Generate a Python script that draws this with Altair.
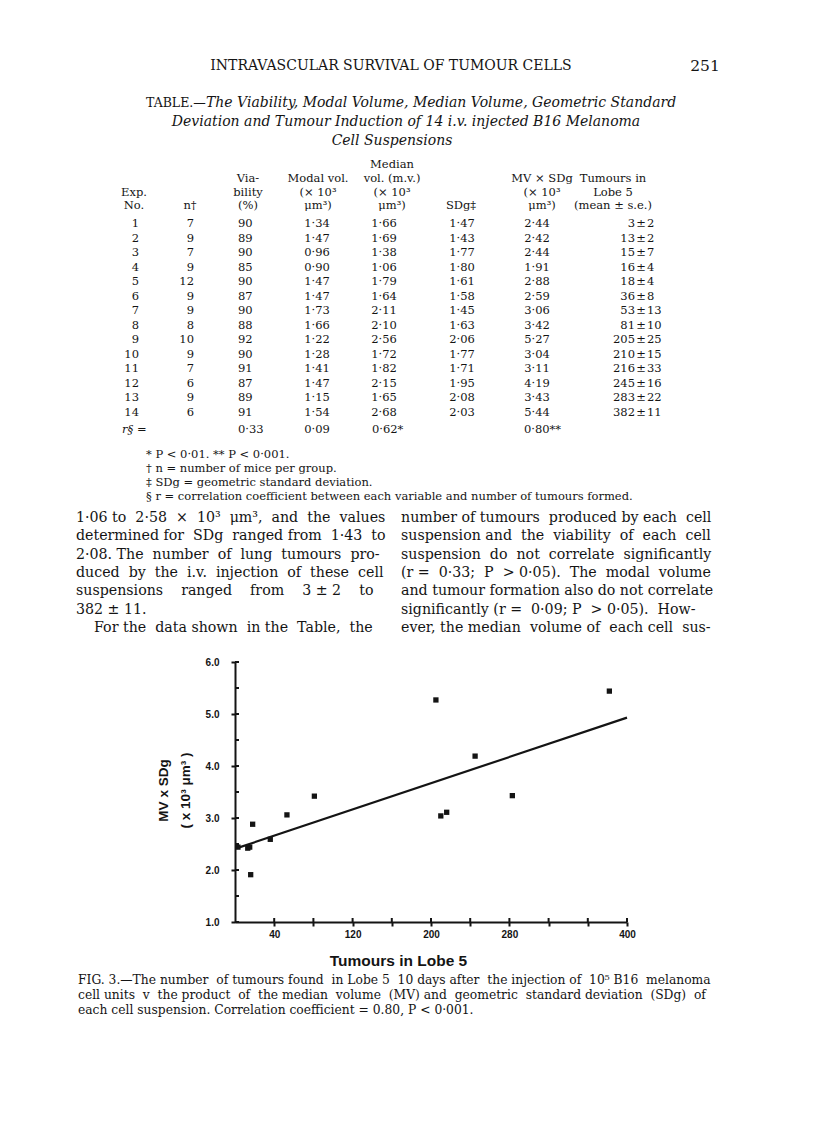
import altair as alt
import pandas as pd

# ---------------- data: the Table ----------------
exp_no = list(range(1, 15))
n_mice = [7, 9, 7, 9, 12, 9, 9, 8, 10, 9, 7, 6, 9, 6]
viability = [90, 89, 90, 85, 90, 87, 90, 88, 92, 90, 91, 87, 89, 91]
modal_vol = [1.34, 1.47, 0.96, 0.90, 1.47, 1.47, 1.73, 1.66, 1.22, 1.28, 1.41, 1.47, 1.15, 1.54]
median_vol = [1.66, 1.69, 1.38, 1.06, 1.79, 1.64, 2.11, 2.10, 2.56, 1.72, 1.82, 2.15, 1.65, 2.68]
sd_g = [1.47, 1.43, 1.77, 1.80, 1.61, 1.58, 1.45, 1.63, 2.06, 1.77, 1.71, 1.95, 2.08, 2.03]
mv_sdg = [2.44, 2.42, 2.44, 1.91, 2.88, 2.59, 3.06, 3.42, 5.27, 3.04, 3.11, 4.19, 3.43, 5.44]
tumours_mean = [3, 13, 15, 16, 18, 36, 53, 81, 205, 210, 216, 245, 283, 382]
tumours_se = [2, 2, 7, 4, 4, 8, 13, 10, 25, 15, 33, 16, 22, 11]
r_row = {"viability": "0·33", "modal": "0·09", "median": "0·62*", "mv": "0·80**"}

# fitted line as drawn in Fig. 3 (end points)
fit_tumours = [2, 400]
fit_mvsdg = [2.42, 4.93]

# axes
x_ticks = [40, 80, 120, 160, 200, 240, 280, 320, 360, 400]
x_labels = [40, 120, 200, 280, 400]
y_ticks = [1.0, 1.5, 2.0, 2.5, 3.0, 3.5, 4.0, 4.5, 5.0, 5.5, 6.0]

# text of the page
running_head = "INTRAVASCULAR SURVIVAL OF TUMOUR CELLS"
page_no = "251"
table_title = ["The Viability, Modal Volume, Median Volume, Geometric Standard",
               "Deviation and Tumour Induction of 14 i.v. injected B16 Melanoma",
               "Cell Suspensions"]
footnotes = ["* P < 0·01. ** P < 0·001.",
             "† n = number of mice per group.",
             "‡ SDg = geometric standard deviation.",
             "§ r = correlation coefficient between each variable and number of tumours formed."]
body_left = ["1·06 to 2·58 × 10³ μm³, and the values",
             "determined for SDg ranged from 1·43 to",
             "2·08. The number of lung tumours pro-",
             "duced by the i.v. injection of these cell",
             "suspensions ranged from 3 ± 2 to",
             "382 ± 11.",
             "For the data shown in the Table, the"]
body_right = ["number of tumours produced by each cell",
              "suspension and the viability of each cell",
              "suspension do not correlate significantly",
              "(r = 0·33; P > 0·05). The modal volume",
              "and tumour formation also do not correlate",
              "significantly (r = 0·09; P > 0·05). How-",
              "ever, the median volume of each cell sus-"]
caption = ["FIG. 3.—The number of tumours found in Lobe 5 10 days after the injection of 10⁵ B16 melanoma",
           "cell units v the product of the median volume (MV) and geometric standard deviation (SDg) of",
           "each cell suspension. Correlation coefficient = 0.80, P < 0·001."]

# extra inter-word space (in space widths) that approximates the justified setting
just_left = [7, 4, 5, 7, 0, 0, 4]
just_right = [2, 5, 4, 6, 0, 3, 3]
just_caption = [6, 10, 0]

# ---------------- layout constants ----------------
OX, OY = 235, 662          # page position of the plot origin
W, H = 392, 260
SERIF = "DejaVu Serif"
SANS = "Liberation Sans"
INK = "#141414"
NB = "\u00a0"
ZW = "\u200b"


def fmt(v):
    return f"{v:.2f}".replace(".", "·")


def justify(line, extra):
    words = line.split(" ")
    gaps = len(words) - 1
    if gaps <= 0 or extra <= 0:
        return line
    out = words[0]
    for i, w in enumerate(words[1:]):
        k = ((i + 1) * extra) // gaps - (i * extra) // gaps
        out += " " + NB * k + w
    return out


def block(lines, x, y, size, align="left", font=SERIF, style="normal",
          weight="normal", lh=None):
    """Text block; x,y = page position of the first line's centre."""
    lh = lh or round(size * 1.3, 1)
    df = pd.DataFrame({"t": ["\n".join(lines)]})
    return alt.Chart(df).mark_text(
        align=align, baseline="middle", font=font, fontSize=size,
        fontStyle=style, fontWeight=weight, lineBreak="\n",
        lineHeight=lh, color=INK,
    ).encode(
        x=alt.value(x - OX),
        y=alt.value(y - OY),
        text="t:N",
    )


layers = []

# running head
layers.append(block([running_head], 391, 66, 14, align="center"))
layers.append(block([page_no], 705, 66, 15.5, align="center"))

# table title
layers.append(block(["TABLE.—"], 146, 103, 12.5))
layers.append(block([table_title[0]], 206, 103, 14, style="italic"))
layers.append(block([table_title[1]], 406, 122, 14, align="center", style="italic"))
layers.append(block([table_title[2]], 392, 141, 14, align="center", style="italic"))

# column headers
TS = 11.5
HL = 13.7
layers.append(block(["Exp.", "No."], 134, 192.6, TS, align="center", lh=HL))
layers.append(block(["n†"], 190, 206.3, TS, align="center", lh=HL))
layers.append(block(["Via-", "bility", "(%)"], 248, 178.9, TS, align="center", lh=HL))
layers.append(block(["Modal vol.", "(× 10³", "μm³)"], 318, 178.9, TS, align="center", lh=HL))
layers.append(block(["Median", "vol. (m.v.)", "(× 10³", "μm³)"], 392, 165.2, TS, align="center", lh=HL))
layers.append(block(["SDg‡"], 461, 206.3, TS, align="center", lh=HL))
layers.append(block(["MV × SDg", "(× 10³", "μm³)"], 542, 178.9, TS, align="center", lh=HL))
layers.append(block(["Tumours in", "Lobe 5", "(mean ± s.e.)"], 613, 178.9, TS, align="center", lh=HL))

# table body, one text block per column
RL = 14.5
R0 = 224
layers.append(block([str(v) for v in exp_no], 139, R0, TS, align="right", lh=RL))
layers.append(block([str(v) for v in n_mice], 194, R0, TS, align="right", lh=RL))
layers.append(block([str(v) for v in viability], 238, R0, TS, align="left", lh=RL))
layers.append(block([fmt(v) for v in modal_vol], 317, R0, TS, align="center", lh=RL))
layers.append(block([fmt(v) for v in median_vol], 384, R0, TS, align="center", lh=RL))
layers.append(block([fmt(v) for v in sd_g], 462, R0, TS, align="center", lh=RL))
layers.append(block([fmt(v) for v in mv_sdg], 537, R0, TS, align="center", lh=RL))
layers.append(block([str(v) for v in tumours_mean], 635, R0, TS, align="right", lh=RL))
layers.append(block(["±"] * len(tumours_mean), 641, R0, TS, align="center", lh=RL))
layers.append(block([str(v) for v in tumours_se], 647, R0, TS, align="left", lh=RL))

# correlation row
RY = 430
layers.append(block(["r§ ="], 122, RY, TS, style="italic"))
layers.append(block([r_row["viability"]], 238, RY, TS))
layers.append(block([r_row["modal"]], 317, RY, TS, align="center"))
layers.append(block([r_row["median"]], 372, RY, TS))
layers.append(block([r_row["mv"]], 524, RY, TS))

# footnotes
layers.append(block(footnotes, 146, 455, 11.5, lh=14))

# body text (two columns, approximately justified)
left_lines = [justify(l, e) for l, e in zip(body_left, just_left)]
left_lines[4] = NB.join(["suspensions", NB * 3 + "ranged", NB * 3 + "from",
                         NB * 3 + "3 ± 2", NB * 3 + "to"])
left_lines[6] = ZW + NB * 4 + left_lines[6]
right_lines = [justify(l, e) for l, e in zip(body_right, just_right)]
layers.append(block(left_lines, 76, 518, 14.2, lh=18.3))
layers.append(block(right_lines, 401, 518, 14.2, lh=18.3))

# caption
cap_lines = [justify(l, e) for l, e in zip(caption, just_caption)]
layers.append(block(cap_lines, 78, 980, 12.3, lh=15))

# ---------------- the figure ----------------
pts = pd.DataFrame({"tumours": tumours_mean, "mvsdg": mv_sdg})
fit = pd.DataFrame({"tumours": fit_tumours, "mvsdg": fit_mvsdg})
xt = pd.DataFrame({"t": x_ticks})
yt = pd.DataFrame({"v": y_ticks})

label_test = " || ".join(f"datum.value == {v}" for v in x_labels)

x_enc = alt.X(
    "tumours:Q",
    scale=alt.Scale(domain=[0, 400], nice=False, zero=True),
    axis=alt.Axis(
        values=x_ticks,
        labelExpr=f"({label_test}) ? format(datum.value, 'd') : ''",
        title="Tumours in Lobe 5",
        titleX=163, titleY=38, titleBaseline="middle", titleAlign="center",
        titleFont=SANS, titleFontSize=15.5, titleFontWeight="bold", titleColor=INK,
        labelFont=SANS, labelFontSize=10, labelFontWeight="bold", labelColor=INK,
        labelPadding=3, tickSize=4, tickWidth=2, tickColor=INK,
        domainColor=INK, domainWidth=2, grid=False, labelFlush=False,
    ),
)
y_enc = alt.Y(
    "mvsdg:Q",
    scale=alt.Scale(domain=[1, 6], nice=False, zero=False),
    axis=alt.Axis(
        values=y_ticks,
        labelExpr="datum.value % 1 === 0 ? format(datum.value, '.1f') : ''",
        title=["MV x SDg", "( x 10³ μm³ )"],
        titleX=-72, titleY=128, titleAngle=270, titleBaseline="middle",
        titleAlign="center", titleLineHeight=22,
        titleFont=SANS, titleFontSize=13.5, titleFontWeight="bold", titleColor=INK,
        labelFont=SANS, labelFontSize=10, labelFontWeight="bold", labelColor=INK,
        labelPadding=12, tickSize=4, tickWidth=2, tickColor=INK,
        domainColor=INK, domainWidth=2, grid=False, labelFlush=False,
    ),
)

line = alt.Chart(fit).mark_line(color=INK, strokeWidth=2.2).encode(x=x_enc, y=y_enc)
points = alt.Chart(pts).mark_square(size=28, color=INK, opacity=1).encode(
    x="tumours:Q", y="mvsdg:Q")
# inward half of the cross-shaped ticks
x_in = alt.Chart(xt).mark_rule(color=INK, strokeWidth=2).encode(
    x="t:Q", y=alt.value(H - 4), y2=alt.value(H))
y_in = alt.Chart(yt).mark_rule(color=INK, strokeWidth=2).encode(
    y="v:Q", x=alt.value(0), x2=alt.value(4))

chart = alt.layer(line, points, x_in, y_in, *layers).properties(
    width=W,
    height=H,
    autosize=alt.AutoSizeParams(type="none"),
    padding={"left": OX - 8, "top": OY - 8, "right": 800 - (OX - 8) - W,
             "bottom": 1120 - (OY - 8) - H},
    background="white",
).configure_view(stroke=None)

chart.save("out.html", embed_options={"renderer": "svg", "actions": False})
